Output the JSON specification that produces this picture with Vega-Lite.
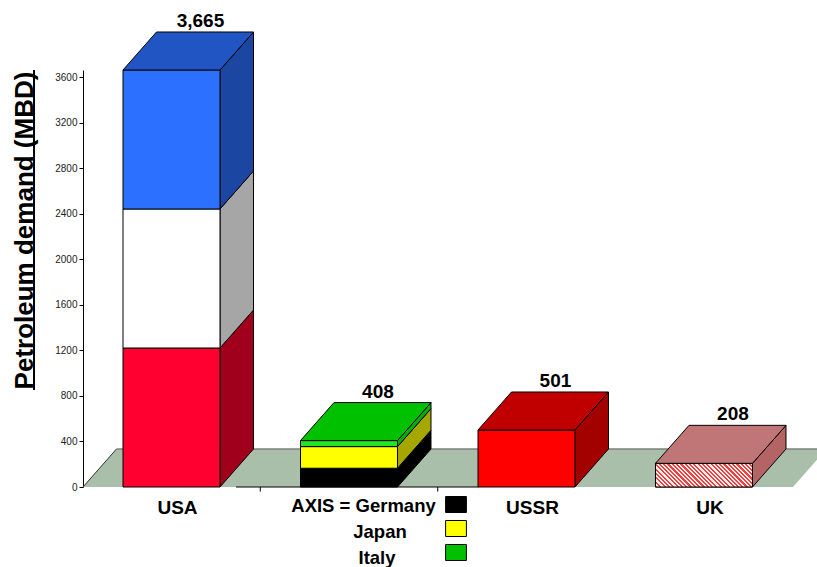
{
  "$schema": "https://vega.github.io/schema/vega-lite/v6.json",
  "width": 734,
  "height": 417,
  "autosize": {"type": "none"},
  "padding": {"left": 83, "top": 70, "right": 0, "bottom": 80},
  "config": {"view": {"stroke": null}, "font": "Liberation Sans"},
  "datasets": {
    "demand": [
      {"country": "USA", "part": "USA lower", "value": 1221.67},
      {"country": "USA", "part": "USA middle", "value": 1221.67},
      {"country": "USA", "part": "USA upper", "value": 1221.66},
      {"country": "AXIS", "part": "Germany", "value": 165},
      {"country": "AXIS", "part": "Japan", "value": 190},
      {"country": "AXIS", "part": "Italy", "value": 53},
      {"country": "USSR", "part": "USSR", "value": 501},
      {"country": "UK", "part": "UK", "value": 208}
    ],
    "axisMembers": [
      {"part": "Germany", "label": "AXIS = Germany"},
      {"part": "Japan", "label": "Japan"},
      {"part": "Italy", "label": "Italy"}
    ]
  },
  "layer": [
    {
      "data": {"values": [{"surface": "floor"}]},
      "transform": [
        {"calculate": "[0, 1]", "as": "k"},
        {"flatten": ["k"]},
        {"calculate": "datum.k * 334", "as": "fy"},
        {"calculate": "-0.4986 + datum.k * 0.1887", "as": "fx"},
        {"calculate": "3.5014 + datum.k * 0.1887", "as": "fx2"}
      ],
      "mark": {"type": "area", "orient": "horizontal", "fill": "#aabfaa", "opacity": 1},
      "encoding": {
        "y": {
          "field": "fy", "type": "quantitative", "stack": null,
          "scale": {"domain": [0, 3665], "nice": false, "zero": false},
          "axis": {
            "title": "Petroleum demand (MBD)",
            "values": [0, 200, 400, 600, 800, 1000, 1200, 1400, 1600, 1800, 2000, 2200, 2400, 2600, 2800, 3000, 3200, 3400, 3600],
            "format": "d",
            "labelExpr": "datum.value % 400 === 0 ? datum.label : ''",
            "labelOverlap": false,
            "grid": false,
            "tickSize": 4,
            "tickColor": "#000",
            "domainColor": "#000",
            "labelFont": "Liberation Sans",
            "labelFontSize": 10,
            "labelColor": "#222",
            "labelPadding": 2,
            "titleFont": "Liberation Sans",
            "titleFontSize": 26,
            "titleFontWeight": "bold",
            "titleColor": "#000",
            "titleAngle": -90,
            "titleAlign": "center",
            "titleBaseline": "alphabetic",
            "titleX": -51,
            "titleY": 160
          }
        },
        "x": {
          "field": "fx", "type": "quantitative", "stack": null,
          "scale": {"domain": [-0.4986, 3.6366], "nice": false, "zero": false},
          "axis": null
        },
        "x2": {"field": "fx2"}
      }
    },
    {
      "data": {"values": [{"edge": "left"}]},
      "mark": {"type": "rule", "color": "#303030", "strokeWidth": 1},
      "encoding": {
        "x": {"datum": -0.4986}, "x2": {"datum": -0.3099},
        "y": {"datum": 0}, "y2": {"datum": 334}
      }
    },
    {
      "data": {"values": [{"edge": "back"}]},
      "mark": {"type": "rule", "color": "#7f7f7f", "strokeWidth": 1.5},
      "encoding": {
        "x": {"datum": -0.3099}, "x2": {"datum": 3.8},
        "y": {"datum": 334}
      }
    },
    {
      "data": {"values": [{"edge": "front"}]},
      "mark": {"type": "rule", "color": "#000", "strokeWidth": 1},
      "encoding": {
        "x": {"datum": 0.3634}, "x2": {"datum": 1.7296},
        "y": {"datum": 0}
      }
    },
    {
      "data": {"values": [{"tick": 0.5}, {"tick": 1.5}]},
      "mark": {"type": "rule", "color": "#000", "strokeWidth": 1},
      "encoding": {
        "x": {"field": "tick", "type": "quantitative"},
        "y": {"datum": 0}, "y2": {"datum": -40}
      }
    },
    {
      "data": {"values": [{"mark": "underline"}]},
      "mark": {"type": "rule", "color": "#000", "strokeWidth": 2},
      "encoding": {
        "x": {"datum": -0.7746},
        "y": {"datum": 852}, "y2": {"datum": 3665}
      }
    },
    {
      "data": {"name": "demand"},
      "transform": [
        {"calculate": "indexof(['USA', 'AXIS', 'USSR', 'UK'], datum.country)", "as": "slot"},
        {
          "window": [
            {"op": "sum", "field": "value", "as": "v1"},
            {"op": "row_number", "as": "level"}
          ],
          "groupby": ["country"],
          "frame": [null, 0],
          "ignorePeers": true
        },
        {
          "joinaggregate": [
            {"op": "sum", "field": "value", "as": "total"},
            {"op": "count", "as": "levels"}
          ],
          "groupby": ["country"]
        },
        {"calculate": "datum.v1 - datum.value", "as": "v0"}
      ],
      "resolve": {"scale": {"fill": "independent"}},
      "layer": [
        {
          "transform": [
            {"calculate": "[0, 1]", "as": "k"},
            {"flatten": ["k"]},
            {"calculate": "datum.slot + 0.2732 + datum.k * 0.1887", "as": "sx"},
            {"calculate": "datum.v0 + datum.k * 334", "as": "sy0"},
            {"calculate": "datum.v1 + datum.k * 334", "as": "sy1"}
          ],
          "mark": {"type": "area", "orient": "vertical", "stroke": "#000", "strokeWidth": 1, "opacity": 1},
          "encoding": {
            "x": {"field": "sx", "type": "quantitative", "stack": null},
            "y": {"field": "sy1", "type": "quantitative", "stack": null},
            "y2": {"field": "sy0"},
            "detail": {"field": "part"},
            "fill": {
              "field": "part", "type": "nominal", "legend": null,
              "scale": {
                "domain": ["USA lower", "USA middle", "USA upper", "Germany", "Japan", "Italy", "USSR", "UK"],
                "range": ["#a0001c", "#a6a6a6", "#1b47a3", "#000000", "#a6a600", "#00b000", "#a30000", "#b46464"]
              }
            }
          }
        },
        {
          "transform": [
            {"calculate": "datum.slot - 0.2732", "as": "bx1"},
            {"calculate": "datum.slot + 0.2732", "as": "bx2"}
          ],
          "mark": {"type": "rect", "stroke": "#000", "strokeWidth": 1},
          "encoding": {
            "x": {"field": "bx1", "type": "quantitative"},
            "x2": {"field": "bx2"},
            "y": {"field": "v0", "type": "quantitative"},
            "y2": {"field": "v1"},
            "fill": {
              "field": "part", "type": "nominal", "legend": null,
              "scale": {
                "domain": ["USA lower", "USA middle", "USA upper", "Germany", "Japan", "Italy", "USSR", "UK"],
                "range": ["#ff0030", "#ffffff", "#2b70ff", "#000000", "#ffff00", "#22e622", "#ff0000", "#f7a6a6"]
              }
            }
          }
        },
        {
          "transform": [
            {"filter": "datum.part === 'UK'"},
            {"calculate": "datum.slot - 0.2732", "as": "bx1"},
            {"calculate": "datum.slot + 0.2732", "as": "bx2"}
          ],
          "mark": {
            "type": "rect", "stroke": "#000", "strokeWidth": 1,
            "fill": {
              "gradient": "linear", "x1": 0, "y1": 1, "x2": 1.174, "y2": 0.7135,
              "stops": [
                {"offset": 0, "color": "#ff3c3c"}, {"offset": 0.0179, "color": "#ff3c3c"}, {"offset": 0.0179, "color": "#fff4f4"}, {"offset": 0.0357, "color": "#fff4f4"},
                {"offset": 0.0357, "color": "#ff3c3c"}, {"offset": 0.0536, "color": "#ff3c3c"}, {"offset": 0.0536, "color": "#fff4f4"}, {"offset": 0.0714, "color": "#fff4f4"},
                {"offset": 0.0714, "color": "#ff3c3c"}, {"offset": 0.0893, "color": "#ff3c3c"}, {"offset": 0.0893, "color": "#fff4f4"}, {"offset": 0.1071, "color": "#fff4f4"},
                {"offset": 0.1071, "color": "#ff3c3c"}, {"offset": 0.125, "color": "#ff3c3c"}, {"offset": 0.125, "color": "#fff4f4"}, {"offset": 0.1429, "color": "#fff4f4"},
                {"offset": 0.1429, "color": "#ff3c3c"}, {"offset": 0.1607, "color": "#ff3c3c"}, {"offset": 0.1607, "color": "#fff4f4"}, {"offset": 0.1786, "color": "#fff4f4"},
                {"offset": 0.1786, "color": "#ff3c3c"}, {"offset": 0.1964, "color": "#ff3c3c"}, {"offset": 0.1964, "color": "#fff4f4"}, {"offset": 0.2143, "color": "#fff4f4"},
                {"offset": 0.2143, "color": "#ff3c3c"}, {"offset": 0.2321, "color": "#ff3c3c"}, {"offset": 0.2321, "color": "#fff4f4"}, {"offset": 0.25, "color": "#fff4f4"},
                {"offset": 0.25, "color": "#ff3c3c"}, {"offset": 0.2679, "color": "#ff3c3c"}, {"offset": 0.2679, "color": "#fff4f4"}, {"offset": 0.2857, "color": "#fff4f4"},
                {"offset": 0.2857, "color": "#ff3c3c"}, {"offset": 0.3036, "color": "#ff3c3c"}, {"offset": 0.3036, "color": "#fff4f4"}, {"offset": 0.3214, "color": "#fff4f4"},
                {"offset": 0.3214, "color": "#ff3c3c"}, {"offset": 0.3393, "color": "#ff3c3c"}, {"offset": 0.3393, "color": "#fff4f4"}, {"offset": 0.3571, "color": "#fff4f4"},
                {"offset": 0.3571, "color": "#ff3c3c"}, {"offset": 0.375, "color": "#ff3c3c"}, {"offset": 0.375, "color": "#fff4f4"}, {"offset": 0.3929, "color": "#fff4f4"},
                {"offset": 0.3929, "color": "#ff3c3c"}, {"offset": 0.4107, "color": "#ff3c3c"}, {"offset": 0.4107, "color": "#fff4f4"}, {"offset": 0.4286, "color": "#fff4f4"},
                {"offset": 0.4286, "color": "#ff3c3c"}, {"offset": 0.4464, "color": "#ff3c3c"}, {"offset": 0.4464, "color": "#fff4f4"}, {"offset": 0.4643, "color": "#fff4f4"},
                {"offset": 0.4643, "color": "#ff3c3c"}, {"offset": 0.4821, "color": "#ff3c3c"}, {"offset": 0.4821, "color": "#fff4f4"}, {"offset": 0.5, "color": "#fff4f4"},
                {"offset": 0.5, "color": "#ff3c3c"}, {"offset": 0.5179, "color": "#ff3c3c"}, {"offset": 0.5179, "color": "#fff4f4"}, {"offset": 0.5357, "color": "#fff4f4"},
                {"offset": 0.5357, "color": "#ff3c3c"}, {"offset": 0.5536, "color": "#ff3c3c"}, {"offset": 0.5536, "color": "#fff4f4"}, {"offset": 0.5714, "color": "#fff4f4"},
                {"offset": 0.5714, "color": "#ff3c3c"}, {"offset": 0.5893, "color": "#ff3c3c"}, {"offset": 0.5893, "color": "#fff4f4"}, {"offset": 0.6071, "color": "#fff4f4"},
                {"offset": 0.6071, "color": "#ff3c3c"}, {"offset": 0.625, "color": "#ff3c3c"}, {"offset": 0.625, "color": "#fff4f4"}, {"offset": 0.6429, "color": "#fff4f4"},
                {"offset": 0.6429, "color": "#ff3c3c"}, {"offset": 0.6607, "color": "#ff3c3c"}, {"offset": 0.6607, "color": "#fff4f4"}, {"offset": 0.6786, "color": "#fff4f4"},
                {"offset": 0.6786, "color": "#ff3c3c"}, {"offset": 0.6964, "color": "#ff3c3c"}, {"offset": 0.6964, "color": "#fff4f4"}, {"offset": 0.7143, "color": "#fff4f4"},
                {"offset": 0.7143, "color": "#ff3c3c"}, {"offset": 0.7321, "color": "#ff3c3c"}, {"offset": 0.7321, "color": "#fff4f4"}, {"offset": 0.75, "color": "#fff4f4"},
                {"offset": 0.75, "color": "#ff3c3c"}, {"offset": 0.7679, "color": "#ff3c3c"}, {"offset": 0.7679, "color": "#fff4f4"}, {"offset": 0.7857, "color": "#fff4f4"},
                {"offset": 0.7857, "color": "#ff3c3c"}, {"offset": 0.8036, "color": "#ff3c3c"}, {"offset": 0.8036, "color": "#fff4f4"}, {"offset": 0.8214, "color": "#fff4f4"},
                {"offset": 0.8214, "color": "#ff3c3c"}, {"offset": 0.8393, "color": "#ff3c3c"}, {"offset": 0.8393, "color": "#fff4f4"}, {"offset": 0.8571, "color": "#fff4f4"},
                {"offset": 0.8571, "color": "#ff3c3c"}, {"offset": 0.875, "color": "#ff3c3c"}, {"offset": 0.875, "color": "#fff4f4"}, {"offset": 0.8929, "color": "#fff4f4"},
                {"offset": 0.8929, "color": "#ff3c3c"}, {"offset": 0.9107, "color": "#ff3c3c"}, {"offset": 0.9107, "color": "#fff4f4"}, {"offset": 0.9286, "color": "#fff4f4"},
                {"offset": 0.9286, "color": "#ff3c3c"}, {"offset": 0.9464, "color": "#ff3c3c"}, {"offset": 0.9464, "color": "#fff4f4"}, {"offset": 0.9643, "color": "#fff4f4"},
                {"offset": 0.9643, "color": "#ff3c3c"}, {"offset": 0.9821, "color": "#ff3c3c"}, {"offset": 0.9821, "color": "#fff4f4"}, {"offset": 1, "color": "#fff4f4"}
              ]
            }
          },
          "encoding": {
            "x": {"field": "bx1", "type": "quantitative"},
            "x2": {"field": "bx2"},
            "y": {"field": "v0", "type": "quantitative"},
            "y2": {"field": "v1"}
          }
        },
        {
          "transform": [
            {"filter": "datum.level === datum.levels"},
            {"calculate": "[0, 1]", "as": "k"},
            {"flatten": ["k"]},
            {"calculate": "datum.total + datum.k * 334", "as": "ty"},
            {"calculate": "datum.slot - 0.2732 + datum.k * 0.1887", "as": "tx1"},
            {"calculate": "datum.slot + 0.2732 + datum.k * 0.1887", "as": "tx2"}
          ],
          "mark": {"type": "area", "orient": "horizontal", "stroke": "#000", "strokeWidth": 1, "opacity": 1},
          "encoding": {
            "y": {"field": "ty", "type": "quantitative", "stack": null},
            "x": {"field": "tx1", "type": "quantitative", "stack": null},
            "x2": {"field": "tx2"},
            "detail": {"field": "part"},
            "fill": {
              "field": "part", "type": "nominal", "legend": null,
              "scale": {
                "domain": ["USA lower", "USA middle", "USA upper", "Germany", "Japan", "Italy", "USSR", "UK"],
                "range": ["#c00024", "#d9d9d9", "#2255c4", "#222222", "#d0d000", "#00c000", "#c00000", "#c07676"]
              }
            }
          }
        },
        {
          "transform": [
            {"filter": "datum.level === datum.levels"},
            {"calculate": "datum.slot + 0.163", "as": "lx"},
            {"calculate": "datum.total + 334", "as": "ly"}
          ],
          "mark": {"type": "text", "font": "Liberation Sans", "fontWeight": "bold", "fontSize": 19, "align": "center", "baseline": "alphabetic", "dy": -5, "color": "#000"},
          "encoding": {
            "x": {"field": "lx", "type": "quantitative"},
            "y": {"field": "ly", "type": "quantitative"},
            "text": {"field": "total", "type": "quantitative", "format": ","}
          }
        },
        {
          "transform": [
            {"filter": "datum.level === datum.levels && datum.country !== 'AXIS'"}
          ],
          "mark": {"type": "text", "font": "Liberation Sans", "fontWeight": "bold", "fontSize": 19, "align": "center", "baseline": "alphabetic", "dy": 27, "dx": 6, "color": "#000"},
          "encoding": {
            "x": {"field": "slot", "type": "quantitative"},
            "y": {"datum": 0},
            "text": {"field": "country", "type": "nominal"}
          }
        }
      ]
    },
    {
      "data": {"name": "axisMembers"},
      "layer": [
        {
          "transform": [{"filter": "datum.part === 'Germany'"}],
          "mark": {"type": "text", "font": "Liberation Sans", "fontWeight": "bold", "fontSize": 18.5, "align": "center", "baseline": "alphabetic", "dx": 14.5, "dy": 25, "color": "#000"},
          "encoding": {"x": {"datum": 1}, "y": {"datum": 0}, "text": {"field": "label"}}
        },
        {
          "transform": [{"filter": "datum.part === 'Japan'"}],
          "mark": {"type": "text", "font": "Liberation Sans", "fontWeight": "bold", "fontSize": 18.5, "align": "center", "baseline": "alphabetic", "dx": 31, "dy": 51, "color": "#000"},
          "encoding": {"x": {"datum": 1}, "y": {"datum": 0}, "text": {"field": "label"}}
        },
        {
          "transform": [{"filter": "datum.part === 'Italy'"}],
          "mark": {"type": "text", "font": "Liberation Sans", "fontWeight": "bold", "fontSize": 18.5, "align": "center", "baseline": "alphabetic", "dx": 28, "dy": 77, "color": "#000"},
          "encoding": {"x": {"datum": 1}, "y": {"datum": 0}, "text": {"field": "label"}}
        },
        {
          "transform": [{"filter": "datum.part === 'Germany'"}],
          "mark": {"type": "point", "shape": "M-1.3,-1H1.3V1H-1.3Z", "size": 256, "filled": true, "fill": "#000000", "stroke": "#000", "strokeWidth": 1, "opacity": 1, "yOffset": 17.5},
          "encoding": {"x": {"datum": 1.6028}, "y": {"datum": 0}}
        },
        {
          "transform": [{"filter": "datum.part === 'Japan'"}],
          "mark": {"type": "point", "shape": "M-1.3,-1H1.3V1H-1.3Z", "size": 256, "filled": true, "fill": "#ffff00", "stroke": "#000", "strokeWidth": 1, "opacity": 1, "yOffset": 41.5},
          "encoding": {"x": {"datum": 1.6028}, "y": {"datum": 0}}
        },
        {
          "transform": [{"filter": "datum.part === 'Italy'"}],
          "mark": {"type": "point", "shape": "M-1.3,-1H1.3V1H-1.3Z", "size": 256, "filled": true, "fill": "#00c000", "stroke": "#000", "strokeWidth": 1, "opacity": 1, "yOffset": 65.5},
          "encoding": {"x": {"datum": 1.6028}, "y": {"datum": 0}}
        }
      ]
    }
  ]
}
